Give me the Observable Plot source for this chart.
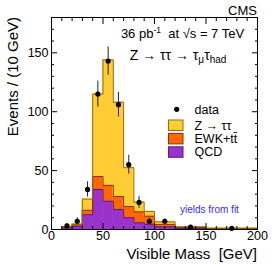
<!DOCTYPE html>
<html>
<head>
<meta charset="utf-8">
<script src="https://cdn.jsdelivr.net/npm/d3@7"></script>
<script src="https://cdn.jsdelivr.net/npm/@observablehq/plot@0.6"></script>
<style>
  html, body { margin: 0; padding: 0; background: #fff; }
  #chart { position: relative; width: 276px; height: 265px; }
  svg { font-family: "Liberation Sans", Arial, Helvetica, sans-serif; }
</style>
</head>
<body>
<div id="chart"></div>
<script>
// ---- data ----
const binLo = [0, 10, 20, 30, 40, 50, 60, 70, 80, 90, 100, 120, 150];
const binHi = [10, 20, 30, 40, 50, 60, 70, 80, 90, 100, 120, 150, 200];
const qcd   = [0, 1.5, 2.8, 12.5, 34, 24, 17, 10, 5.7, 4.5, 2.3, 0.9, 0.3];
const ewk   = [0, 0.6, 1.2, 3.8, 11, 13.5, 11, 9.5, 9.3, 6.8, 2.0, 0.8, 0.5];
const ztt   = [0, 0.3, 0.6, 9.5, 70, 106.5, 80, 33, 8.2, 4.0, 2.2, 0.6, 0.3];

const dataX   = [15, 25, 35, 45, 55, 65, 75, 85, 95, 110, 135, 175];
const dataY   = [3, 7, 34, 115, 143, 106, 55, 23, 7, 7, 2, 1];
const dataErr = [2, 3, 6.5, 11, 12, 10.5, 8, 5, 2.7, 2, 0.8, 0.5];

const xMajor = [0, 50, 100, 150, 200];
const xMinor = [10, 20, 30, 40, 60, 70, 80, 90, 110, 120, 130, 140, 160, 170, 180, 190];
const yMajor = [0, 50, 100, 150];
const yMinor = [10, 20, 30, 40, 60, 70, 80, 90, 110, 120, 130, 140, 160, 170];

const series = [
  {name: "QCD", values: qcd, fill: "#9933cc", stroke: "#5a1a7a"},
  {name: "EWK+tt\u0304", values: ewk, fill: "#ff6600", stroke: "#8a3300"},
  {name: "Z \u2192 \u03c4\u03c4", values: ztt, fill: "#ffcc33", stroke: "#9a6a10"}
];

// build stacked table and step outlines
const base = binLo.map(() => 0);
const stackRows = series.map(s => binLo.map((lo, i) => {
  const y1 = base[i];
  const y2 = base[i] + s.values[i];
  base[i] = y2;
  return {x1: lo, x2: binHi[i], y1, y2};
}));
const outlines = stackRows.map(rows => [
  ...rows.map(r => ({x: r.x1, y: r.y2})),
  {x: rows[rows.length - 1].x2, y: rows[rows.length - 1].y2}
]);
const points = dataX.map((x, i) => ({x, y: dataY[i], lo: dataY[i] - dataErr[i], hi: dataY[i] + dataErr[i]}));

const none = () => "";

const chart = Plot.plot({
  width: 276,
  height: 265,
  marginLeft: 51,
  marginRight: 19,
  marginTop: 17,
  marginBottom: 36,
  style: {fontFamily: '"Liberation Sans", Arial, sans-serif', fontSize: "12px", background: "white"},
  x: {domain: [0, 200], label: null},
  y: {domain: [0, 180], label: null},
  marks: [
    ...series.map((s, k) => Plot.rect(stackRows[k], {x1: "x1", x2: "x2", y1: "y1", y2: "y2", inset: 0, fill: s.fill, stroke: s.fill, strokeWidth: 0.6})),
    ...series.map((s, k) => Plot.line(outlines[k], {x: "x", y: "y", curve: "step-after", stroke: s.stroke, strokeWidth: 1})),
    Plot.ruleX(points, {x: "x", y1: "lo", y2: "hi", stroke: "#222", strokeWidth: 1}),
    Plot.dot(points, {x: "x", y: "y", r: 2.6, fill: "black", stroke: "none"}),
    // tick labels
    Plot.axisX({anchor: "bottom", ticks: xMajor, tickSize: 0, tickPadding: 2, fontSize: 12.5, label: null}),
    Plot.axisY({anchor: "left", ticks: yMajor, tickSize: 0, tickPadding: 3, fontSize: 12.5, label: null}),
    // inward ticks
    Plot.axisX({anchor: "bottom", ticks: xMajor, tickSize: -6, tickFormat: none, label: null}),
    Plot.axisX({anchor: "bottom", ticks: xMinor, tickSize: -3, tickFormat: none, label: null}),
    Plot.axisX({anchor: "top", ticks: xMajor, tickSize: -6, tickFormat: none, label: null}),
    Plot.axisX({anchor: "top", ticks: xMinor, tickSize: -3, tickFormat: none, label: null}),
    Plot.axisY({anchor: "left", ticks: yMajor, tickSize: -6, tickFormat: none, label: null}),
    Plot.axisY({anchor: "left", ticks: yMinor, tickSize: -3, tickFormat: none, label: null}),
    Plot.axisY({anchor: "right", ticks: yMajor, tickSize: -6, tickFormat: none, label: null}),
    Plot.axisY({anchor: "right", ticks: yMinor, tickSize: -3, tickFormat: none, label: null}),
    Plot.frame({stroke: "black", strokeWidth: 1})
  ]
});

document.getElementById("chart").appendChild(chart);

// ---- annotations, titles and legend ----
const svg = d3.select(chart);
const g = svg.append("g")
  .attr("font-family", '"Liberation Sans", Arial, sans-serif')
  .attr("fill", "black")
  .attr("text-anchor", "start");

g.append("text").attr("x", 257).attr("y", 14.5).attr("text-anchor", "end").attr("font-size", 13).text("CMS");

// Y title
g.append("text")
  .attr("transform", "translate(17.5,17) rotate(-90)")
  .attr("text-anchor", "end").attr("font-size", 15)
  .text("Events / (10 GeV)");
// X title
g.append("text").attr("x", 257).attr("y", 259).attr("text-anchor", "end").attr("font-size", 15)
  .text("Visible Mass\u00a0\u00a0[GeV]");

// luminosity line
const lum = g.append("text").attr("x", 182.5).attr("y", 37.5).attr("text-anchor", "middle").attr("font-size", 13);
lum.append("tspan").text("36 pb");
lum.append("tspan").attr("dy", -5).attr("font-size", 8.5).text("-1");
lum.append("tspan").attr("dy", 5).text("\u00a0\u00a0at \u221As = 7 TeV");

// process line
const zt = g.append("text").attr("x", 178).attr("y", 60).attr("text-anchor", "middle").attr("font-size", 14);
zt.append("tspan").text("Z \u2192 \u03c4\u03c4 \u2192 \u03c4");
zt.append("tspan").attr("dy", 3).attr("font-size", 10).text("\u03bc");
zt.append("tspan").attr("dy", -3).text("\u03c4");
zt.append("tspan").attr("dy", 3).attr("font-size", 10).text("had");

// legend
const lg = g.append("g").attr("font-size", 12.5).attr("text-anchor", "start");
lg.append("circle").attr("cx", 176.7).attr("cy", 109.3).attr("r", 2.6).attr("fill", "black");
lg.append("text").attr("x", 194.5).attr("y", 113.5).text("data");
const legendItems = series.slice().reverse();
legendItems.forEach((s, i) => {
  const y = 120 + i * 13.4;
  lg.append("rect").attr("x", 168.5).attr("y", y).attr("width", 14.5).attr("height", 10.5)
    .attr("fill", s.fill).attr("stroke", s.stroke).attr("stroke-width", 1);
  lg.append("text").attr("x", 194.5).attr("y", y + 9.5).text(s.name);
});

g.append("text").attr("x", 180).attr("y", 212.5).attr("font-size", 10).attr("fill", "#2f2fff").text("yields from fit");
</script>
</body>
</html>
